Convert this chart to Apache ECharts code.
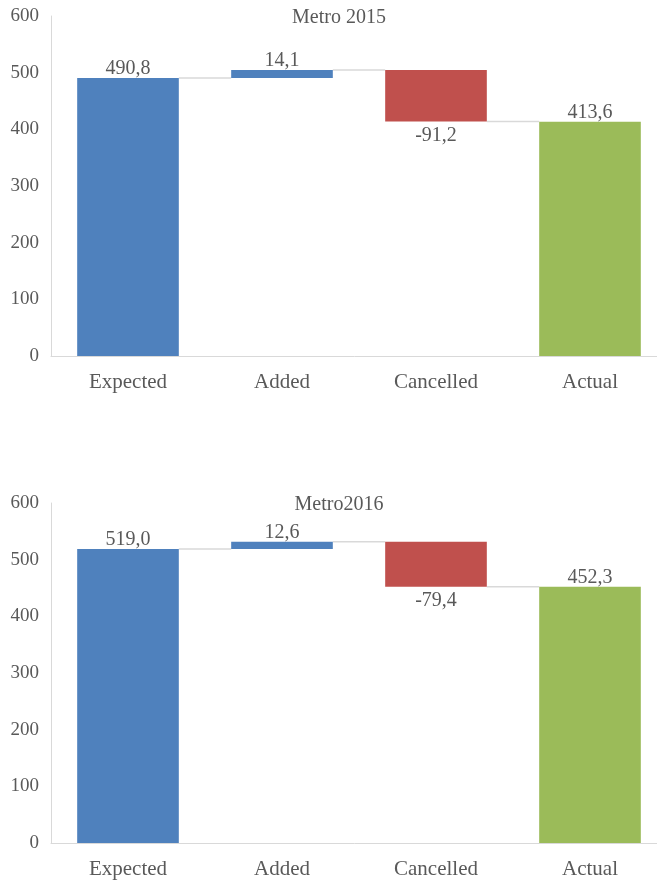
<!DOCTYPE html>
<html>
<head>
<meta charset="utf-8">
<script src="https://cdn.jsdelivr.net/npm/echarts@6/dist/echarts.min.js"></script>
<style>html,body{margin:0;padding:0;background:#fff}#c{width:657px;height:880px}</style>
</head>
<body>
<div id="c"></div>
<script>
const categories = ['Expected', 'Added', 'Cancelled', 'Actual'];
const titles = ['Metro 2015', 'Metro2016'];
const values2015 = [490.8, 14.1, -91.2, 413.6];
const values2016 = [519.0, 12.6, -79.4, 452.3];
const yTicks = [0, 100, 200, 300, 400, 500, 600];
const colors = ['#4F81BD', '#4F81BD', '#C0504D', '#9BBB59'];

const FONT = '"Liberation Serif", "Times New Roman", serif';
const TXT = '#595959';

function waterfall(vals) {
  const base = [], height = [], levels = [];
  let running = 0;
  vals.forEach((v, i) => {
    if (i === 0 || i === vals.length - 1) {
      base.push(0); height.push(Math.abs(v)); running = v;
    } else if (v >= 0) {
      base.push(running); height.push(v); running += v;
    } else {
      base.push(running + v); height.push(-v); running += v;
    }
    levels.push(running);
  });
  return { base, height, levels };
}

const chart = echarts.init(document.getElementById('c'), null, { renderer: 'canvas' });
const datasets = [values2015, values2016];
const tops = [16, 503];
const BW = '66%';
const grids = [], xAxes = [], yAxes = [], series = [], titleOpts = [];

datasets.forEach((vals, gi) => {
  const wf = waterfall(vals);
  grids.push({ left: 51, width: 616, top: tops[gi], height: 340, outerBoundsMode: 'none', containLabel: false });
  titleOpts.push({
    text: titles[gi], left: 339, top: tops[gi] - 8, textAlign: 'center', padding: 0,
    textStyle: { fontFamily: FONT, fontSize: 20, fontWeight: 'normal', color: TXT }
  });
  xAxes.push({
    type: 'category', gridIndex: gi, data: categories,
    axisLine: { lineStyle: { color: '#D9D9D9', width: 1 } },
    axisTick: { show: false },
    axisLabel: { fontFamily: FONT, fontSize: 21, color: TXT, margin: 16 }
  });
  yAxes.push({
    type: 'value', gridIndex: gi, min: 0, max: 600, interval: 100,
    axisLine: { show: true, lineStyle: { color: '#D9D9D9', width: 1 } },
    axisTick: { show: false },
    splitLine: { show: false },
    axisLabel: { fontFamily: FONT, fontSize: 19, color: TXT, margin: 12,
      formatter: v => yTicks.includes(v) ? String(v) : '' }
  });
  series.push({
    type: 'bar', xAxisIndex: gi, yAxisIndex: gi, stack: 's' + gi,
    barWidth: BW, silent: true,
    itemStyle: { color: 'transparent' },
    data: wf.base
  });
  series.push({
    type: 'bar', xAxisIndex: gi, yAxisIndex: gi, stack: 's' + gi,
    barWidth: BW,
    data: wf.height.map((h, i) => ({
      value: h,
      itemStyle: { color: colors[i] },
      label: {
        show: true,
        position: vals[i] < 0 ? 'bottom' : 'top',
        distance: vals[i] < 0 ? 4 : -1,
        fontFamily: FONT, fontSize: 20, color: TXT,
        formatter: () => vals[i].toFixed(1).replace('.', ',')
      }
    }))
  });
  series.push({
    type: 'custom', xAxisIndex: gi, yAxisIndex: gi, silent: true, z: 1,
    data: wf.levels.slice(0, -1).map((l, i) => [i, l]),
    renderItem: (params, api) => {
      const i = api.value(0), lvl = api.value(1);
      const band = api.size([1, 0])[0];
      const half = band * 0.66 / 2;
      const p1 = api.coord([i, lvl]);
      const p2 = api.coord([i + 1, lvl]);
      return {
        type: 'line',
        shape: { x1: p1[0] + half, y1: p1[1], x2: p2[0] - half, y2: p2[1] },
        style: { stroke: '#D9D9D9', lineWidth: 1.5 }
      };
    }
  });
});

chart.setOption({
  animation: false,
  backgroundColor: '#fff',
  title: titleOpts,
  grid: grids,
  xAxis: xAxes,
  yAxis: yAxes,
  series: series
});
</script>
</body>
</html>
